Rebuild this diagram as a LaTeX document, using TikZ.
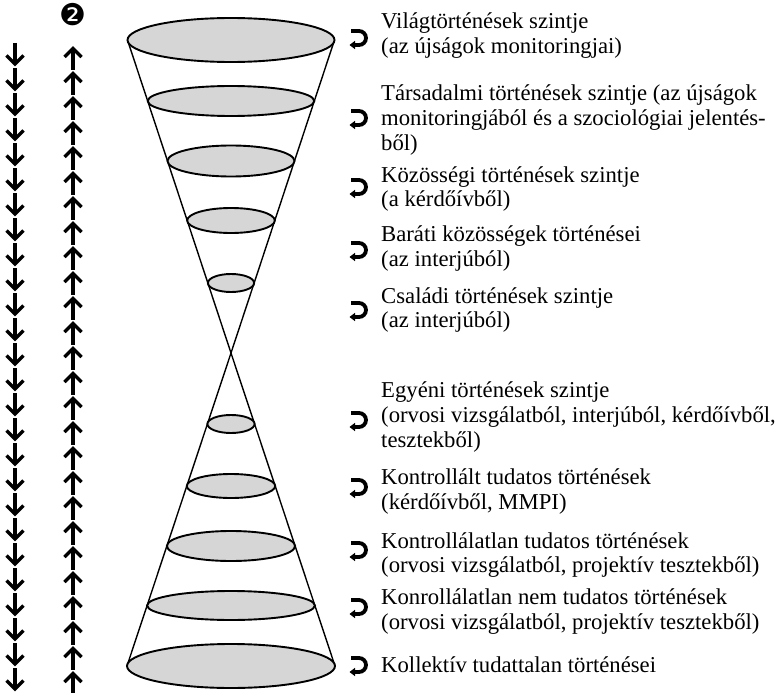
\documentclass[tikz,border=0pt]{standalone}
\usepackage{fontspec}
\setmainfont{Liberation Serif}
\newfontfamily\dejavu{DejaVu Sans}
\usetikzlibrary{arrows.meta}
\tikzset{
  lbl/.style={anchor=base west, inner sep=0pt, font=\fontsize{22.7}{25}\selectfont},
  disc/.style={fill=black!16, draw=black, line width=1.9pt},
  conel/.style={draw=black, line width=1.4pt},
  arr/.style={draw=black, line width=3.3pt, line join=miter, miter limit=10},
  hookpic/.pic={
    \draw[line width=3.8pt] (-9,-7) -- (-1,-7) arc(-90:90:7) -- (-6,7);
    \fill (-10.5,7) -- (-5,2.8) -- (-5,11.2) -- cycle;
  }
}
\begin{document}
\begin{tikzpicture}[x=1pt,y=-1pt]
\useasboundingbox (0,0) rectangle (780,693);
% left arrow columns
\foreach \k in {0,...,25}{
  \draw[arr] (15,43+25*\k) -- (15,63+25*\k);
  \draw[arr] (6.5,55.5+25*\k) -- (15,64+25*\k) -- (23.5,55.5+25*\k);
  \draw[arr] (73,49+25*\k) -- (73,70+25*\k);
  \draw[arr] (64.5,57+25*\k) -- (73,48.5+25*\k) -- (81.5,57+25*\k);
}
\node[font=\dejavu\fontsize{30}{30}\selectfont, inner sep=0pt] (two) at (73,15) {❷};
% cones
\coordinate (apex) at (231,353);
\coordinate (tl) at (127.5,40);
\coordinate (tr) at (334.5,40);
\coordinate (bl) at (127,666);
\coordinate (br) at (335,666);
\draw[conel] (tl) -- (apex) -- (tr);
\draw[conel] (bl) -- (apex) -- (br);
% upper discs
\draw[disc] (231,40) ellipse (103.5 and 22);
\draw[disc] (231,101) ellipse (83.3 and 15);
\draw[disc] (231,161) ellipse (63.5 and 15.5);
\draw[disc] (231,220.5) ellipse (43.8 and 12.5);
\draw[disc] (231,283) ellipse (23.1 and 9);
% lower discs
\draw[disc] (231,424) ellipse (23.6 and 9);
\draw[disc] (231,486) ellipse (44.2 and 12);
\draw[disc] (231,546) ellipse (64.1 and 15);
\draw[disc] (231,605.5) ellipse (83.9 and 14.5);
\draw[disc] (231,666) ellipse (104 and 22);
% hooks
\foreach \y in {38,118,187,250,310,420,487,550,607,665}{
  \pic at (360,\y) {hookpic};
}
% labels
\node[lbl] (t1a) at (381,29) {Világtörténések szintje};
\node[lbl] (t1b) at (381,54) {(az újságok monitoringjai)};
\node[lbl] (t2a) at (381,100) {Társadalmi történések szintje (az újságok};
\node[lbl] (t2b) at (381,125) {monitoringjából és a szociológiai jelentés-};
\node[lbl] (t2c) at (381,150) {ből)};
\node[lbl] (t3a) at (381,182) {Közösségi történések szintje};
\node[lbl] (t3b) at (381,206) {(a kérdőívből)};
\node[lbl] (t4a) at (381,241) {Baráti közösségek történései};
\node[lbl] (t4b) at (381,266) {(az interjúból)};
\node[lbl] (t5a) at (381,303) {Családi történések szintje};
\node[lbl] (t5b) at (381,327) {(az interjúból)};
\node[lbl] (t6a) at (381,397) {Egyéni történések szintje};
\node[lbl] (t6b) at (381,422) {(orvosi vizsgálatból, interjúból, kérdőívből,};
\node[lbl] (t6c) at (381,447) {tesztekből)};
\node[lbl] (t7a) at (381,484) {Kontrollált tudatos történések};
\node[lbl] (t7b) at (381,509) {(kérdőívből, MMPI)};
\node[lbl] (t8a) at (381,548) {Kontrollálatlan tudatos történések};
\node[lbl] (t8b) at (381,572) {(orvosi vizsgálatból, projektív tesztekből)};
\node[lbl] (t9a) at (381,604) {Konrollálatlan nem tudatos történések};
\node[lbl] (t9b) at (381,629) {(orvosi vizsgálatból, projektív tesztekből)};
\node[lbl] (t10) at (381,672) {Kollektív tudattalan történései};
\end{tikzpicture}
\end{document}
